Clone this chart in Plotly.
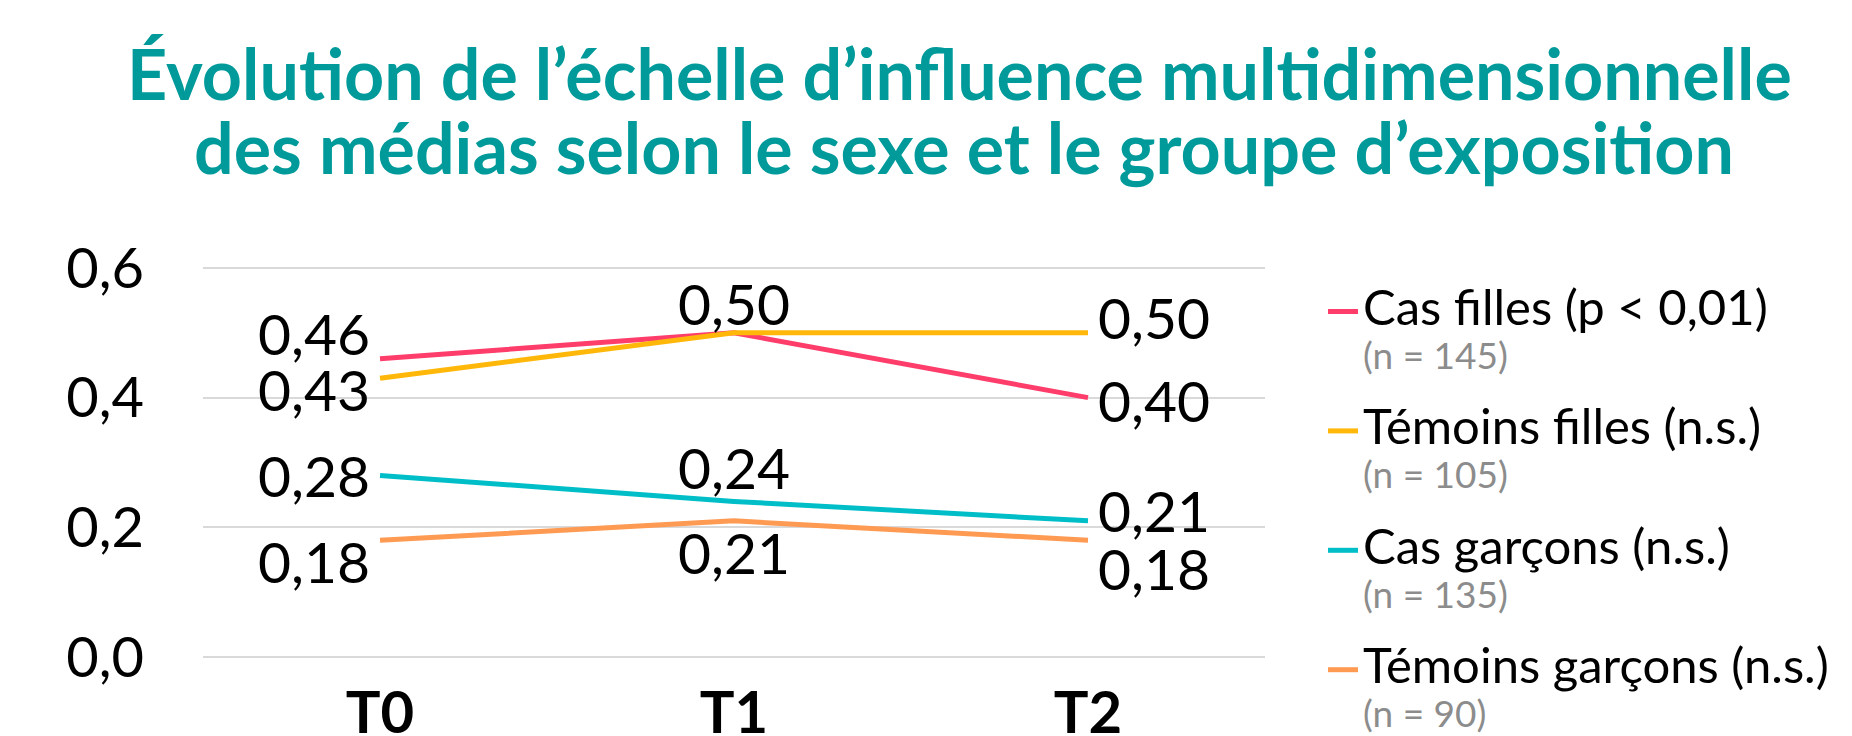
import plotly.graph_objects as go

# ---- data ----
categories = ["T0", "T1", "T2"]
series_names = ["Cas filles (p &lt; 0,01)", "Témoins filles (n.s.)",
                "Cas garçons (n.s.)", "Témoins garçons (n.s.)"]
series_n = ["(n = 145)", "(n = 105)", "(n = 135)", "(n = 90)"]
cas_filles = [0.46, 0.50, 0.40]
temoins_filles = [0.43, 0.50, 0.50]
cas_garcons = [0.28, 0.24, 0.21]
temoins_garcons = [0.18, 0.21, 0.18]
y_ticks = [0.0, 0.2, 0.4, 0.6]
title_lines = ["Évolution de l’échelle d’influence multidimensionnelle",
               "des médias selon le sexe et le groupe d’exposition"]

series_values = [cas_filles, temoins_filles, cas_garcons, temoins_garcons]

# ---- styles ----
colors = ["#FF3D6B", "#FFB80A", "#00BEC8", "#FF9A52"]
FONT = "Lato"
TEAL = "#009A9A"

# label placement per series/category: (xanchor, xshift, yshift) or None
label_pos = [
    [("right", -8, 26), ("center", 0, 30), ("left", 8, -2)],
    [("right", -8, -11), None, ("left", 8, 16)],
    [("right", -8, 0), ("center", 0, 34), ("left", 8, 11)],
    [("right", -8, -21), ("center", 0, -31), ("left", 8, -28)],
]

fig = go.Figure()
for name, n, vals, col in zip(series_names, series_n, series_values, colors):
    fig.add_trace(go.Scatter(
        x=categories, y=vals, mode="lines",
        line=dict(color=col, width=5),
        name=(f"<span style='font-size:49px;color:#000000'>{name}</span>"
              f"<br><span style='color:#8C8C8C;font-size:37px'>{n}</span>"),
        legendgroup=name,
        hoverinfo="skip",
    ))

annotations = []
for si, vals in enumerate(series_values):
    for ci, v in enumerate(vals):
        pos = label_pos[si][ci]
        if pos is None:
            continue
        xa, dx, dy = pos
        annotations.append(dict(
            x=categories[ci], y=v, xref="x", yref="y",
            text=f"{v:.2f}".replace(".", ","),
            showarrow=False, xanchor=xa, yanchor="middle",
            xshift=dx, yshift=dy,
            font=dict(family=FONT, size=57, color="#000000"),
        ))

title_pos = [(0.7128, 1.491), (0.7166, 1.303)]
for line, (tx, ty) in zip(title_lines, title_pos):
    annotations.append(dict(
        x=tx, y=ty, xref="paper", yref="paper",
        text=f"<b>{line}</b>", showarrow=False,
        xanchor="center", yanchor="middle",
        font=dict(family=FONT, size=70, color=TEAL),
    ))

fig.update_layout(
    width=1852, height=736,
    paper_bgcolor="white", plot_bgcolor="white",
    margin=dict(l=203, r=587, t=266, b=77, autoexpand=False),
    separators=", ",
    showlegend=True,
    legend=dict(
        x=1.0546, xanchor="left", y=0.957, yanchor="top",
        font=dict(family=FONT, size=34, color="#000000"),
        valign="top", tracegroupgap=28, traceorder="grouped",
        bgcolor="rgba(0,0,0,0)", maxheight=2000,
    ),
    annotations=annotations,
)
fig.update_xaxes(
    type="category", categoryorder="array", categoryarray=categories,
    range=[-0.5, 2.5], showgrid=False, zeroline=False, showline=False,
    ticks="", tickfont=dict(family=FONT, size=58, color="#000000", weight="bold"),
    ticklabelstandoff=15, automargin=False,
)
fig.update_yaxes(
    range=[-0.003, 0.603], tickvals=y_ticks, tickformat=".1f",
    showgrid=True, gridcolor="#D9D9D9", gridwidth=2,
    zeroline=False, showline=False, ticks="",
    tickfont=dict(family=FONT, size=56, color="#000000"),
    ticklabelstandoff=58, automargin=False,
)

fig.write_html("out.html", config={"displayModeBar": False},
               post_script="document.body.style.margin='0';")
